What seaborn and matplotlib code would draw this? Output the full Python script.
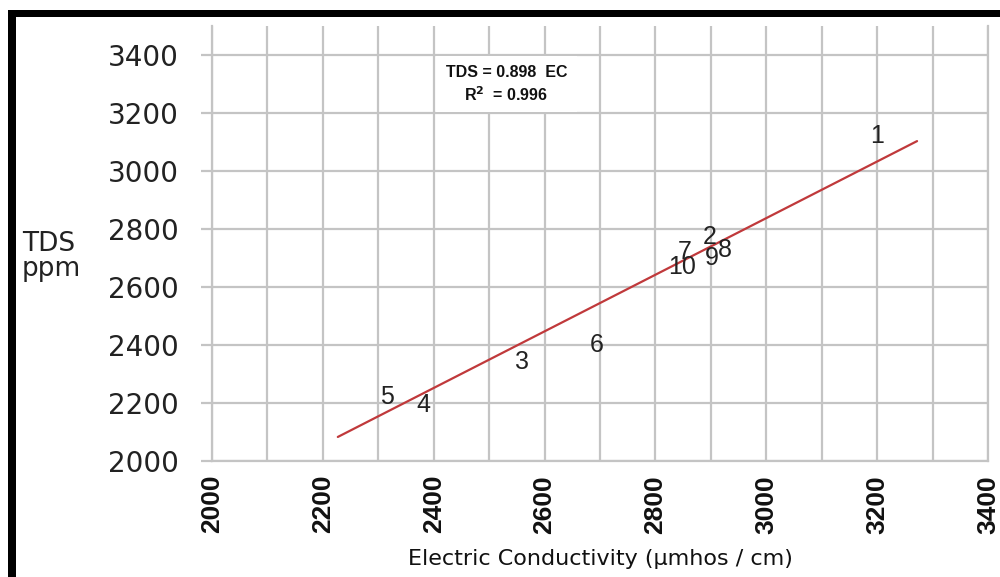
import seaborn as sns
import matplotlib.pyplot as plt
from matplotlib.patches import Rectangle

# sample numbers as printed on the chart, positioned at (EC, TDS)
sample_ids = ['1', '2', '3', '4', '5', '6', '7', '8', '9', '10']
ec_values = [3200, 2898, 2559, 2382, 2315, 2694, 2853, 2925, 2902, 2848]
tds_values = [3120, 2772, 2341, 2193, 2221, 2400, 2721, 2728, 2700, 2669]

# fitted line end points
fit_ec = [2227, 3272]
fit_tds = [2083, 3103]

x_ticks = [2000, 2200, 2400, 2600, 2800, 3000, 3200, 3400]
y_ticks = [2000, 2200, 2400, 2600, 2800, 3000, 3200, 3400]

grid_col = '#c4c4c4'

sns.set_style('white')
fig = plt.figure(figsize=(10, 5.77), dpi=100)
ax = fig.add_axes([0.212, 0.201, 0.776, 0.754])

sns.lineplot(x=fit_ec, y=fit_tds, ax=ax, color='#c0393b', linewidth=1.6, zorder=3)

for label, x, y in zip(sample_ids, ec_values, tds_values):
    ax.text(x, y, label, ha='center', va='center', fontsize=18,
            family='Liberation Sans', color='#222222', zorder=4)

ax.set_xlim(2000, 3400)
ax.set_ylim(2000, 3500)
ax.set_xticks(x_ticks)
ax.set_xticks(range(2100, 3400, 200), minor=True)
ax.set_yticks(y_ticks)
ax.grid(True, which='both', axis='x', color=grid_col, linewidth=1.6)
ax.grid(True, which='major', axis='y', color=grid_col, linewidth=1.6)
ax.set_axisbelow(True)

for side in ['left', 'right', 'bottom']:
    ax.spines[side].set_visible(True)
    ax.spines[side].set_color(grid_col)
    ax.spines[side].set_linewidth(1.6)
ax.spines['top'].set_visible(False)

ax.tick_params(axis='y', which='major', left=True, length=8, width=1.6,
               color=grid_col, pad=16, labelsize=20, labelcolor='#222222')
ax.tick_params(axis='x', which='both', bottom=False, length=0, pad=10)
for t in ax.get_yticklabels():
    t.set_family('DejaVu Sans')
for t in ax.get_xticklabels():
    t.set_family(['Liberation Sans Narrow', 'Liberation Sans'])
    t.set_fontweight('bold')
    t.set_fontsize(19)
    t.set_rotation(90)
    t.set_color('#111111')

ax.set_xlabel('Electric Conductivity (µmhos / cm)', fontsize=16,
              family='DejaVu Sans', color='#111111', labelpad=11)
ax.set_ylabel('')

# equation box
ax.add_patch(Rectangle((2405, 3205), 254, 190, facecolor='white',
                       edgecolor='none', zorder=2))
ax.text(2532, 3340, 'TDS = 0.898  EC', ha='center', va='center', fontsize=11.5,
        fontweight='bold', family=['Liberation Sans Narrow', 'Liberation Sans'],
        color='#111111', zorder=5)
ax.text(2530, 3262, 'R$^{\\mathbf{2}}$  = 0.996', ha='center', va='center', fontsize=11.5,
        fontweight='bold', family=['Liberation Sans Narrow', 'Liberation Sans'],
        color='#111111', zorder=5)

fig.text(0.022, 0.555, 'TDS\nppm', ha='left', va='center', fontsize=19,
         family='DejaVu Sans', color='#222222', linespacing=0.95)

# thick black frame on top and left
fig.add_artist(Rectangle((0.008, 0.9705), 0.992, 0.0122, transform=fig.transFigure,
                         facecolor='black', edgecolor='none'))
fig.add_artist(Rectangle((0.008, 0.0), 0.008, 0.9827, transform=fig.transFigure,
                         facecolor='black', edgecolor='none'))

fig.savefig('out.png', dpi=100)
